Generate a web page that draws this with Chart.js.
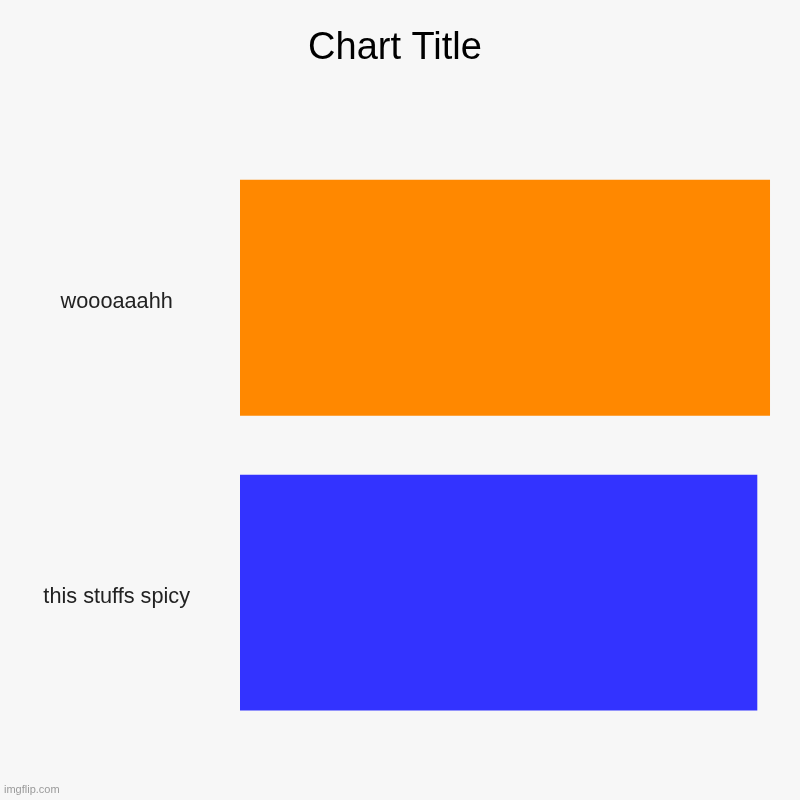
<!DOCTYPE html>
<html>
<head>
<meta charset="utf-8">
<script src="https://cdn.jsdelivr.net/npm/chart.js@4"></script>
<style>
  body { margin: 0; background: #f7f7f7; }
  #wrap { position: relative; width: 800px; height: 800px; background: #f7f7f7; }
  #mark { position: absolute; left: 4px; top: 783px; font: 11px "Liberation Sans", Arial, sans-serif; color: #9a9a9a; }
</style>
</head>
<body>
<div id="wrap">
  <canvas id="myChart" width="800" height="800"></canvas>
  <div id="mark">imgflip.com</div>
</div>
<script>
const categories = ["woooaaahh", "this stuffs spicy"];
const values = [100, 97.6];
const barColors = ["#ff8800", "#3333ff"];
// axis runs a bit past the biggest bar, like the original
const axisMax = 103.77;

function initChart() {
  const ctx = document.getElementById("myChart");
  return new Chart(ctx, {
    type: "bar",
    data: {
      labels: categories,
      datasets: [
        {
          data: values,
          backgroundColor: barColors,
          borderWidth: 0,
          barPercentage: 236 / 295,
          categoryPercentage: 1,
        },
      ],
    },
    options: {
      indexAxis: "y",
      responsive: false,
      animation: false,
      layout: { padding: { top: 0, right: 10, bottom: 60, left: 0 } },
      plugins: {
        legend: { display: false },
        tooltip: { enabled: false },
        title: {
          display: true,
          text: "Chart Title",
          color: "#000",
          font: { family: "'Liberation Sans', Arial, sans-serif", size: 38, weight: "normal" },
          padding: { top: 26, bottom: 78.7 },
        },
      },
      scales: {
        x: { display: false, min: 0, max: axisMax },
        y: {
          grid: { display: false, drawTicks: false },
          border: { display: false },
          afterFit: (scale) => {
            // fixed gutter for the labels, and no extra vertical room from the tick padding
            scale.width = 240;
            scale.paddingTop = 0;
            scale.paddingBottom = 0;
          },
          ticks: {
            crossAlign: "center",
            padding: 50,
            labelOffset: 4,
            color: "#222",
            font: { family: "'Liberation Sans', Arial, sans-serif", size: 21.7 },
          },
        },
      },
    },
  });
}

document.addEventListener("DOMContentLoaded", () => initChart());
</script>
</body>
</html>
